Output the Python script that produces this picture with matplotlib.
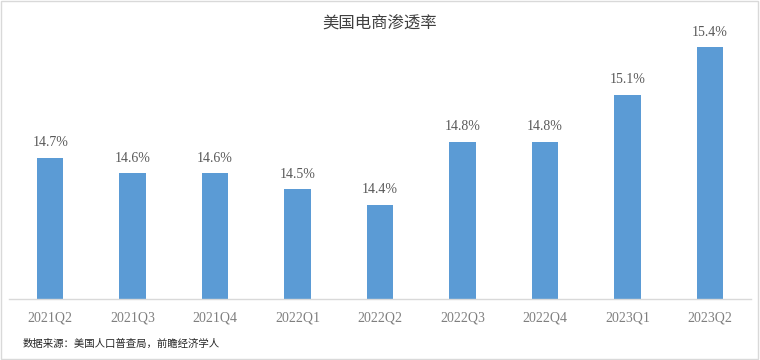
import matplotlib
matplotlib.use("Agg")
import matplotlib.pyplot as plt
from matplotlib.patches import Rectangle

# === Data ===
quarters = ["2021Q2", "2021Q3", "2021Q4", "2022Q1", "2022Q2",
            "2022Q3", "2022Q4", "2023Q1", "2023Q2"]
penetration = [14.7, 14.6, 14.6, 14.5, 14.4, 14.8, 14.8, 15.1, 15.4]

title = "美国电商渗透率"
source = "数据来源：美国人口普查局，前瞻经济学人"

serif = ["Liberation Serif", "DejaVu Serif"]
cjk = ["Noto Sans CJK SC", "DejaVu Sans"]

# === Figure ===
fig = plt.figure(figsize=(7.6, 3.6), dpi=100)
ax = fig.add_axes([9 / 760, 1 - 299 / 360, 742 / 760, 283 / 360])

x = range(len(quarters))
bars = ax.bar(x, penetration, width=0.32, color="#5B9BD5", zorder=2)

ax.set_xlim(-0.5, len(quarters) - 0.5)
ax.set_ylim(13.8, 15.6)

for b, v in zip(bars, penetration):
    ax.annotate(f"{v:.1f}%", (b.get_x() + b.get_width() / 2, v),
                xytext=(0, 6), textcoords="offset points",
                ha="center", va="bottom", fontsize=10,
                color="#595959", family=serif)

# axis styling
for s in ["top", "right", "left"]:
    ax.spines[s].set_visible(False)
ax.spines["bottom"].set_color("#D9D9D9")
ax.spines["bottom"].set_linewidth(1)
ax.set_yticks([])
ax.set_xticks(list(x))
ax.set_xticklabels(quarters, fontsize=10, color="#7F7F7F", family=serif)
ax.tick_params(axis="x", length=0, pad=9)

# title and source
fig.text(0.5, 1 - 23 / 360, title, ha="center", va="center",
         fontsize=11.8, color="#404040", family=cjk)
fig.text(23 / 760, 1 - 344 / 360, source, ha="left", va="center",
         fontsize=7.5, color="#262626", family=cjk)

# light frame around the picture
fig.patches.append(Rectangle((0.001, 0.002), 0.997, 0.995, transform=fig.transFigure,
                             fill=False, edgecolor="#D9D9D9", linewidth=1))

fig.savefig("out.png", dpi=100)
